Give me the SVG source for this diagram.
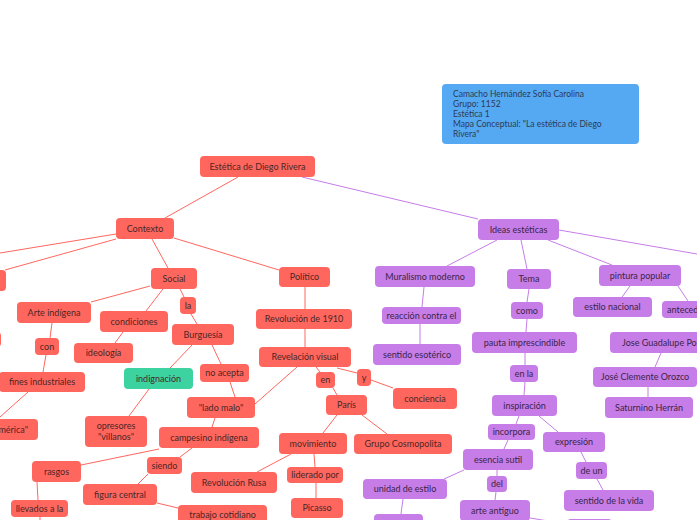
<svg xmlns="http://www.w3.org/2000/svg" width="697" height="520" viewBox="0 0 697 520">
<style>
.r rect{fill:#FF675E;}
.p rect{fill:#C67DE7;}
.g rect{fill:#3DD3A0;}
rect{rx:4;ry:4;}
text{font-family:"Lato","Noto Sans",sans-serif;font-size:9px;text-anchor:middle;}
.r text,.g text{fill:#4a2626;}
.p text{fill:#3b2448;}
.cr line{stroke:#FF675E;stroke-width:1;}
.cp line{stroke:#C67DE7;stroke-width:1;}
.note text{text-anchor:start;fill:#2d3a55;font-size:8.5px;}
</style>
<rect width="697" height="520" fill="#FFFFFF"/>
<g id="connectors">
<g class="cr">
<line x1="238" y1="177" x2="165" y2="218"/>
<line x1="116" y1="234" x2="0" y2="253"/>
<line x1="116" y1="239" x2="5" y2="270"/>
<line x1="152" y1="239" x2="168" y2="268"/>
<line x1="174" y1="238" x2="279" y2="270"/>
<line x1="305" y1="287" x2="305" y2="309"/>
<line x1="150" y1="286" x2="91" y2="302"/>
<line x1="163" y1="289" x2="146" y2="311"/>
<line x1="180" y1="289" x2="184" y2="297"/>
<line x1="191" y1="314" x2="197" y2="324"/>
<line x1="123" y1="332" x2="115" y2="343"/>
<line x1="52" y1="323" x2="50" y2="338"/>
<line x1="46" y1="355" x2="43" y2="372"/>
<line x1="28" y1="392" x2="0" y2="417"/>
<line x1="192" y1="345" x2="170" y2="368"/>
<line x1="149" y1="389" x2="129" y2="416"/>
<line x1="212" y1="345" x2="221" y2="364"/>
<line x1="230" y1="382" x2="235" y2="397"/>
<line x1="297" y1="367" x2="255" y2="404"/>
<line x1="215" y1="418" x2="212" y2="427"/>
<line x1="159" y1="449" x2="81" y2="465"/>
<line x1="192" y1="448" x2="180" y2="457"/>
<line x1="148" y1="474" x2="138" y2="484"/>
<line x1="157" y1="503" x2="178" y2="508"/>
<line x1="37" y1="482" x2="38" y2="500"/>
<line x1="40" y1="517" x2="40" y2="520"/>
<line x1="305" y1="329" x2="305" y2="347"/>
<line x1="316" y1="367" x2="320" y2="372"/>
<line x1="333" y1="388" x2="337" y2="395"/>
<line x1="337" y1="368" x2="357" y2="373"/>
<line x1="371" y1="380" x2="393" y2="388"/>
<line x1="337" y1="415" x2="323" y2="433"/>
<line x1="362" y1="415" x2="387" y2="434"/>
<line x1="291" y1="454" x2="257" y2="472"/>
<line x1="314" y1="454" x2="315" y2="467"/>
<line x1="316" y1="483" x2="316" y2="498"/>
</g>
<g class="cp">
<line x1="302" y1="177" x2="478" y2="219"/>
<line x1="497" y1="240" x2="447" y2="266"/>
<line x1="521" y1="240" x2="527" y2="269"/>
<line x1="548" y1="240" x2="612" y2="265"/>
<line x1="559" y1="230" x2="697" y2="254"/>
<line x1="424" y1="287" x2="422" y2="307"/>
<line x1="420" y1="324" x2="420" y2="344"/>
<line x1="529" y1="289" x2="527" y2="302"/>
<line x1="527" y1="319" x2="526" y2="332"/>
<line x1="525" y1="353" x2="525" y2="365"/>
<line x1="525" y1="382" x2="524" y2="395"/>
<line x1="519" y1="416" x2="516" y2="424"/>
<line x1="508" y1="440" x2="504" y2="449"/>
<line x1="539" y1="416" x2="558" y2="432"/>
<line x1="581" y1="452" x2="586" y2="462"/>
<line x1="597" y1="479" x2="603" y2="490"/>
<line x1="464" y1="470" x2="444" y2="479"/>
<line x1="403" y1="499" x2="401" y2="514"/>
<line x1="497" y1="470" x2="497" y2="476"/>
<line x1="496" y1="492" x2="495" y2="500"/>
<line x1="530" y1="518" x2="567" y2="524"/>
<line x1="630" y1="286" x2="622" y2="297"/>
<line x1="678" y1="286" x2="688" y2="301"/>
<line x1="661" y1="353" x2="655" y2="367"/>
<line x1="648" y1="387" x2="648" y2="397"/>
</g>
</g>

<g id="note" class="note">
<rect x="442" y="84" width="197" height="60" fill="#55A9F2"/>
<text x="453" y="97">Camacho Hernández Sofía Carolina</text>
<text x="453" y="107">Grupo: 1152</text>
<text x="453" y="117">Estética 1</text>
<text x="453" y="127">Mapa Conceptual: "La estética de Diego</text>
<text x="453" y="137">Rivera"</text>
</g>

<g id="n-estetica" class="r"><rect x="200" y="156" width="115" height="21"/><text x="257.5" y="169.5">Estética de Diego Rivera</text></g>
<g id="n-contexto" class="r"><rect x="116" y="218" width="58" height="21"/><text x="145" y="231.5">Contexto</text></g>
<g id="n-left1" class="r"><rect x="-40" y="270" width="46" height="21"/></g>
<g id="n-left2" class="r"><rect x="-50" y="332" width="51" height="15"/></g>
<g id="n-social" class="r"><rect x="151" y="268" width="46" height="21"/><text x="174" y="281.5">Social</text></g>
<g id="n-politico" class="r"><rect x="279" y="267" width="51" height="20"/><text x="304.5" y="280">Político</text></g>
<g id="n-arte" class="r"><rect x="17" y="302" width="74" height="21"/><text x="54" y="315.5">Arte indígena</text></g>
<g id="n-condiciones" class="r"><rect x="100" y="311" width="68" height="21"/><text x="134" y="324.5">condiciones</text></g>
<g id="n-la" class="r"><rect x="180" y="297" width="16" height="17"/><text x="188" y="308.5">la</text></g>
<g id="n-burguesia" class="r"><rect x="172" y="324" width="62" height="21"/><text x="203" y="337.5">Burguesía</text></g>
<g id="n-ideologia" class="r"><rect x="74" y="343" width="59" height="20"/><text x="103.5" y="356">ideología</text></g>
<g id="n-con" class="r"><rect x="35" y="338" width="24" height="17"/><text x="47" y="349.5">con</text></g>
<g id="n-fines" class="r"><rect x="-1" y="372" width="86" height="20"/><text x="42" y="385">fines industriales</text></g>
<g id="n-america" class="r"><rect x="-30" y="419" width="68" height="21"/><text x="28" y="432.5" style="text-anchor:end">"América"</text></g>
<g id="n-indignacion" class="g"><rect x="124" y="368" width="69" height="21"/><text x="158.5" y="381.5">indignación</text></g>
<g id="n-opresores" class="r"><rect x="85" y="416" width="62" height="31"/><text x="116" y="429">opresores</text><text x="116" y="440">"villanos"</text></g>
<g id="n-noacepta" class="r"><rect x="200" y="364" width="49" height="18"/><text x="224.5" y="376">no acepta</text></g>
<g id="n-ladomalo" class="r"><rect x="187" y="397" width="68" height="21"/><text x="221" y="410.5">"lado malo"</text></g>
<g id="n-campesino" class="r"><rect x="159" y="427" width="100" height="21"/><text x="209" y="440.5">campesino indígena</text></g>
<g id="n-rasgos" class="r"><rect x="32" y="461" width="49" height="21"/><text x="56.5" y="474.5">rasgos</text></g>
<g id="n-siendo" class="r"><rect x="147" y="457" width="35" height="17"/><text x="164.5" y="468.5">siendo</text></g>
<g id="n-figura" class="r"><rect x="83" y="484" width="74" height="21"/><text x="120" y="497.5">figura central</text></g>
<g id="n-trabajo" class="r"><rect x="178" y="505" width="89" height="22"/><text x="222.5" y="518">trabajo cotidiano</text></g>
<g id="n-llevados" class="r"><rect x="11" y="500" width="57" height="17"/><text x="39.5" y="511.5">llevados a la</text></g>
<g id="n-rev1910" class="r"><rect x="256" y="309" width="96" height="20"/><text x="304" y="322">Revolución de 1910</text></g>
<g id="n-revelacion" class="r"><rect x="259" y="347" width="92" height="20"/><text x="305" y="360">Revelación visual</text></g>
<g id="n-en" class="r"><rect x="316" y="372" width="19" height="16"/><text x="325.5" y="383">en</text></g>
<g id="n-y" class="r"><rect x="357" y="369" width="14" height="17"/><text x="364" y="380.5">y</text></g>
<g id="n-conciencia" class="r"><rect x="393" y="388" width="64" height="21"/><text x="425" y="401.5">conciencia</text></g>
<g id="n-paris" class="r"><rect x="326" y="395" width="41" height="20"/><text x="346.5" y="408">París</text></g>
<g id="n-movimiento" class="r"><rect x="279" y="433" width="68" height="21"/><text x="313" y="446.5">movimiento</text></g>
<g id="n-grupo" class="r"><rect x="354" y="434" width="98" height="20"/><text x="403" y="447">Grupo Cosmopolita</text></g>
<g id="n-revrusa" class="r"><rect x="191" y="472" width="86" height="21"/><text x="234" y="485.5">Revolución Rusa</text></g>
<g id="n-liderado" class="r"><rect x="287" y="467" width="56" height="16"/><text x="315" y="478">liderado por</text></g>
<g id="n-picasso" class="r"><rect x="291" y="498" width="52" height="20"/><text x="317" y="511">Picasso</text></g>

<g id="n-ideas" class="p"><rect x="478" y="219" width="81" height="21"/><text x="518.5" y="232.5">Ideas estéticas</text></g>
<g id="n-muralismo" class="p"><rect x="375" y="266" width="100" height="21"/><text x="425" y="279.5">Muralismo moderno</text></g>
<g id="n-tema" class="p"><rect x="507" y="269" width="44" height="20"/><text x="529" y="282">Tema</text></g>
<g id="n-pintura" class="p"><rect x="599" y="265" width="82" height="21"/><text x="640" y="278.5">pintura popular</text></g>
<g id="n-reaccion" class="p"><rect x="382" y="307" width="79" height="17"/><text x="421.5" y="318.5">reacción contra el</text></g>
<g id="n-esoterico" class="p"><rect x="373" y="344" width="88" height="21"/><text x="417" y="357.5">sentido esotérico</text></g>
<g id="n-como" class="p"><rect x="511" y="302" width="32" height="17"/><text x="527" y="313.5">como</text></g>
<g id="n-pauta" class="p"><rect x="472" y="332" width="105" height="21"/><text x="524.5" y="345.5">pauta imprescindible</text></g>
<g id="n-enla" class="p"><rect x="510" y="365" width="28" height="17"/><text x="524" y="376.5">en la</text></g>
<g id="n-inspiracion" class="p"><rect x="492" y="395" width="65" height="21"/><text x="524.5" y="408.5">inspiración</text></g>
<g id="n-incorpora" class="p"><rect x="488" y="424" width="47" height="16"/><text x="511.5" y="435">incorpora</text></g>
<g id="n-esencia" class="p"><rect x="463" y="449" width="70" height="21"/><text x="498" y="462.5">esencia sutil</text></g>
<g id="n-expresion" class="p"><rect x="543" y="432" width="62" height="20"/><text x="574" y="445">expresión</text></g>
<g id="n-deun" class="p"><rect x="576" y="462" width="31" height="17"/><text x="591.5" y="473.5">de un</text></g>
<g id="n-vida" class="p"><rect x="564" y="490" width="90" height="21"/><text x="609" y="503.5">sentido de la vida</text></g>
<g id="n-unidad" class="p"><rect x="363" y="479" width="84" height="20"/><text x="405" y="492">unidad de estilo</text></g>
<g id="n-below" class="p"><rect x="374" y="514" width="49" height="20"/></g>
<g id="n-del" class="p"><rect x="487" y="476" width="20" height="16"/><text x="497" y="487">del</text></g>
<g id="n-antiguo" class="p"><rect x="460" y="500" width="70" height="21"/><text x="495" y="513.5">arte antiguo</text></g>
<g id="n-right" class="p"><rect x="567" y="519" width="45" height="20"/></g>
<g id="n-estilo" class="p"><rect x="573" y="297" width="79" height="20"/><text x="612.5" y="310">estilo nacional</text></g>
<g id="n-anteced" class="p"><rect x="662" y="301" width="60" height="17"/><text x="667" y="312.5" style="text-anchor:start">antecedentes</text></g>
<g id="n-posada" class="p"><rect x="610" y="332" width="110" height="21"/><text x="622" y="345.5" style="text-anchor:start">Jose Guadalupe Posada</text></g>
<g id="n-orozco" class="p"><rect x="593" y="367" width="104" height="20"/><text x="645" y="380">José Clemente Orozco</text></g>
<g id="n-saturnino" class="p"><rect x="605" y="397" width="88" height="21"/><text x="649" y="410.5">Saturnino Herrán</text></g>
</svg>
